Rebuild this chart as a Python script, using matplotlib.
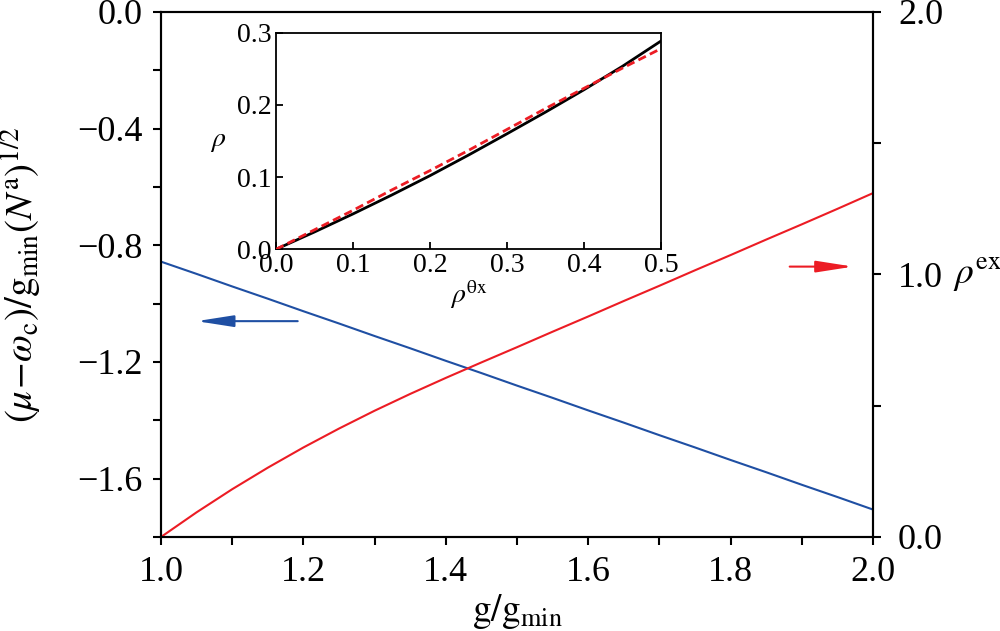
import matplotlib
matplotlib.use("Agg")
import matplotlib.pyplot as plt
from matplotlib.ticker import MultipleLocator, FuncFormatter

plt.rcParams['font.family'] = 'serif'
plt.rcParams['font.serif'] = ['Liberation Serif', 'DejaVu Serif']
plt.rcParams['mathtext.fontset'] = 'stix'

# ---- data ----
g_ratio = [1.0, 1.05, 1.1, 1.15, 1.2, 1.25, 1.3, 1.35, 1.4, 1.45, 1.5,
           1.55, 1.6, 1.65, 1.7, 1.75, 1.8, 1.85, 1.9, 1.95, 2.0]
mu_scaled = [-0.856, -0.898, -0.941, -0.983, -1.026, -1.068, -1.111, -1.153, -1.196, -1.238, -1.281,
             -1.323, -1.366, -1.408, -1.451, -1.493, -1.536, -1.578, -1.621, -1.663, -1.706]
rho_ex = [0.0, 0.094, 0.182, 0.264, 0.341, 0.413, 0.481, 0.545, 0.606, 0.665, 0.723,
          0.782, 0.840, 0.899, 0.957, 1.016, 1.074, 1.133, 1.191, 1.25, 1.31]

rho_theta = [0.0, 0.05, 0.1, 0.15, 0.2, 0.25, 0.3, 0.35, 0.4, 0.45, 0.5]
rho_exact = [0.0, 0.024, 0.049, 0.075, 0.102, 0.1305, 0.16, 0.19, 0.221, 0.2535, 0.2885]
rho_approx = [0.0, 0.027, 0.054, 0.082, 0.109, 0.137, 0.166, 0.195, 0.223, 0.251, 0.278]

blue = '#1f4fa3'
red = '#ec1c24'


def fmt(v, pos):
    if abs(v) < 1e-9:
        v = 0.0
    return f'{v:.1f}'.replace('-', '\u2212')


fig = plt.figure(figsize=(10, 6.31), dpi=100)
ax = fig.add_axes([0.161, 0.149, 0.712, 0.832])
ax2 = ax.twinx()

ax.plot(g_ratio, mu_scaled, color=blue, lw=1.5)
ax2.plot(g_ratio, rho_ex, color=red, lw=1.5)

ax.set_xlim(1.0, 2.0)
ax.set_ylim(-1.8, 0.0)
ax2.set_ylim(0.0, 2.0)

ax.xaxis.set_major_locator(MultipleLocator(0.2))
ax.xaxis.set_minor_locator(MultipleLocator(0.1))
ax.yaxis.set_major_locator(MultipleLocator(0.4))
ax.yaxis.set_minor_locator(MultipleLocator(0.2))
ax2.yaxis.set_major_locator(MultipleLocator(1.0))
ax2.yaxis.set_minor_locator(MultipleLocator(0.5))
for axis in (ax.xaxis, ax.yaxis, ax2.yaxis):
    axis.set_major_formatter(FuncFormatter(fmt))

for a in (ax, ax2):
    for s in a.spines.values():
        s.set_linewidth(1.5)
    a.tick_params(which='both', direction='out', width=1.5, labelsize=26)
    a.tick_params(which='major', length=6)
    a.tick_params(which='minor', length=6)
ax.tick_params(axis='x', pad=8)
ax.tick_params(axis='y', pad=7)
ax2.tick_params(axis='y', pad=12)
ax.tick_params(axis='y', which='both', right=False)

ax.set_xlabel(r'${\rm g/g}_{\rm min}$', fontsize=27, labelpad=2)
ax.set_ylabel(r'$(\mu\!-\!\omega_{\rm c})/{\rm g}_{\rm min}(N^{\rm a})^{1/2}$', fontsize=28, labelpad=24)
ax2.set_ylabel(r'$\rho^{\rm ex}$', fontsize=27, rotation=0, va='center', ha='left')
ax2.yaxis.set_label_coords(1.112, 0.5)

# arrows
ax.annotate('', xy=(1.05, -1.06), xytext=(1.192, -1.06),
            arrowprops=dict(arrowstyle='-|>,head_length=1.6,head_width=0.25',
                            mutation_scale=14, color=blue, lw=1.5, shrinkA=0, shrinkB=0))
ax2.annotate('', xy=(1.972, 1.03), xytext=(1.883, 1.03),
             arrowprops=dict(arrowstyle='-|>,head_length=1.6,head_width=0.25',
                             mutation_scale=14, color=red, lw=1.5, shrinkA=0, shrinkB=0))

# inset
ins = fig.add_axes([0.276, 1 - 249.3 / 631, 0.385, (249.3 - 32.7) / 631])
ins.plot(rho_theta, rho_exact, color='black', lw=2.0, zorder=2)
ins.plot(rho_theta, rho_approx, color=red, lw=2.0, ls=(0, (3, 1.6)), zorder=3)
ins.set_xlim(0, 0.5)
ins.set_ylim(0, 0.3)
ins.xaxis.set_major_locator(MultipleLocator(0.1))
ins.yaxis.set_major_locator(MultipleLocator(0.1))
ins.xaxis.set_major_formatter(FuncFormatter(fmt))
ins.yaxis.set_major_formatter(FuncFormatter(fmt))
for s in ins.spines.values():
    s.set_linewidth(1.3)
ins.tick_params(direction='in', length=5, width=1.3, labelsize=20, pad=3)
ins.set_xlabel(r'$\rho^{\mathrm{θx}}$', fontsize=20, labelpad=0)
ins.set_ylabel(r'$\rho$', fontsize=20, rotation=0, va='center', labelpad=14)

fig.savefig('out.png', dpi=100)
